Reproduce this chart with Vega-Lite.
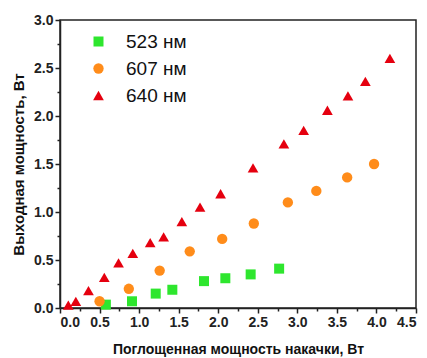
{
  "$schema": "https://vega.github.io/schema/vega-lite/v6.json",
  "autosize": {"type": "none"},
  "padding": {"left": 60, "top": 20, "right": 11, "bottom": 50},
  "width": 356,
  "height": 288,
  "background": "white",
  "data": {"values": [
    {"series": "523 нм", "x": 0.58, "y": 0.035},
    {"series": "523 нм", "x": 0.91, "y": 0.07},
    {"series": "523 нм", "x": 1.21, "y": 0.15},
    {"series": "523 нм", "x": 1.42, "y": 0.19},
    {"series": "523 нм", "x": 1.82, "y": 0.28},
    {"series": "523 нм", "x": 2.09, "y": 0.31},
    {"series": "523 нм", "x": 2.41, "y": 0.35},
    {"series": "523 нм", "x": 2.77, "y": 0.41},
    {"series": "607 нм", "x": 0.50, "y": 0.07},
    {"series": "607 нм", "x": 0.87, "y": 0.20},
    {"series": "607 нм", "x": 1.26, "y": 0.39},
    {"series": "607 нм", "x": 1.64, "y": 0.59},
    {"series": "607 нм", "x": 2.05, "y": 0.72},
    {"series": "607 нм", "x": 2.45, "y": 0.88},
    {"series": "607 нм", "x": 2.88, "y": 1.10},
    {"series": "607 нм", "x": 3.24, "y": 1.22},
    {"series": "607 нм", "x": 3.63, "y": 1.36},
    {"series": "607 нм", "x": 3.97, "y": 1.50},
    {"series": "640 нм", "x": 0.105, "y": 0.03},
    {"series": "640 нм", "x": 0.20, "y": 0.07},
    {"series": "640 нм", "x": 0.36, "y": 0.18},
    {"series": "640 нм", "x": 0.56, "y": 0.32},
    {"series": "640 нм", "x": 0.74, "y": 0.47},
    {"series": "640 нм", "x": 0.92, "y": 0.57},
    {"series": "640 нм", "x": 1.14, "y": 0.68},
    {"series": "640 нм", "x": 1.31, "y": 0.74},
    {"series": "640 нм", "x": 1.54, "y": 0.90},
    {"series": "640 нм", "x": 1.77, "y": 1.05},
    {"series": "640 нм", "x": 2.03, "y": 1.19},
    {"series": "640 нм", "x": 2.44, "y": 1.46},
    {"series": "640 нм", "x": 2.83, "y": 1.71},
    {"series": "640 нм", "x": 3.08, "y": 1.85},
    {"series": "640 нм", "x": 3.38, "y": 2.06},
    {"series": "640 нм", "x": 3.64, "y": 2.21},
    {"series": "640 нм", "x": 3.86, "y": 2.36},
    {"series": "640 нм", "x": 4.17, "y": 2.60}
  ]},
  "config": {
    "view": {"stroke": "#222", "strokeWidth": 1.5},
    "font": "Liberation Sans"
  },
  "mark": {"type": "point", "filled": true, "opacity": 1},
  "encoding": {
    "x": {
      "field": "x", "type": "quantitative",
      "scale": {"domain": [0, 4.5], "nice": false, "zero": false},
      "axis": {
        "title": "Поглощенная мощность накачки, Вт",
        "values": [0, 0.25, 0.5, 0.75, 1, 1.25, 1.5, 1.75, 2, 2.25, 2.5, 2.75, 3, 3.25, 3.5, 3.75, 4, 4.25, 4.5],
        "labelExpr": "(datum.value * 2) % 1 === 0 ? format(datum.value, '.1f') : ''",
        "tickSize": {"condition": {"test": "(datum.value * 2) % 1 === 0", "value": 5}, "value": 3},
        "grid": false,
        "domainColor": "#222", "domainWidth": 1.5,
        "tickColor": "#222", "tickWidth": 1.5,
        "labelFont": "Liberation Sans", "labelFontSize": 14, "labelFontWeight": "bold", "labelColor": "#222",
        "labelPadding": 2,
        "labelOverlap": false,
        "titleFont": "Liberation Sans", "titleFontSize": 14, "titleFontWeight": "bold", "titleColor": "#111",
        "titlePadding": 13
      }
    },
    "y": {
      "field": "y", "type": "quantitative",
      "scale": {"domain": [0, 3], "nice": false, "zero": false},
      "axis": {
        "title": "Выходная мощность, Вт",
        "values": [0, 0.25, 0.5, 0.75, 1, 1.25, 1.5, 1.75, 2, 2.25, 2.5, 2.75, 3],
        "labelExpr": "(datum.value * 2) % 1 === 0 ? format(datum.value, '.1f') : ''",
        "tickSize": {"condition": {"test": "(datum.value * 2) % 1 === 0", "value": 5}, "value": 3},
        "grid": false,
        "domainColor": "#222", "domainWidth": 1.5,
        "tickColor": "#222", "tickWidth": 1.5,
        "labelFont": "Liberation Sans", "labelFontSize": 14, "labelFontWeight": "bold", "labelColor": "#222",
        "labelPadding": 2,
        "labelOverlap": false,
        "titleFont": "Liberation Sans", "titleFontSize": 15, "titleFontWeight": "bold", "titleColor": "#111",
        "titlePadding": 7
      }
    },
    "color": {
      "field": "series", "type": "nominal",
      "scale": {"domain": ["523 нм", "607 нм", "640 нм"], "range": ["#2ee62e", "#ff8c1a", "#e5000f"]},
      "legend": {
        "title": null,
        "orient": "none",
        "legendX": 29,
        "legendY": 12,
        "labelFont": "Liberation Sans",
        "labelFontSize": 19,
        "labelColor": "#111",
        "labelOffset": 18,
        "rowPadding": 7
      }
    },
    "shape": {
      "field": "series", "type": "nominal",
      "scale": {"domain": ["523 нм", "607 нм", "640 нм"], "range": ["square", "circle", "triangle-up"]}
    },
    "size": {
      "field": "series", "type": "nominal",
      "scale": {"domain": ["523 нм", "607 нм", "640 нм"], "range": [100, 115, 165]}
    }
  }
}
